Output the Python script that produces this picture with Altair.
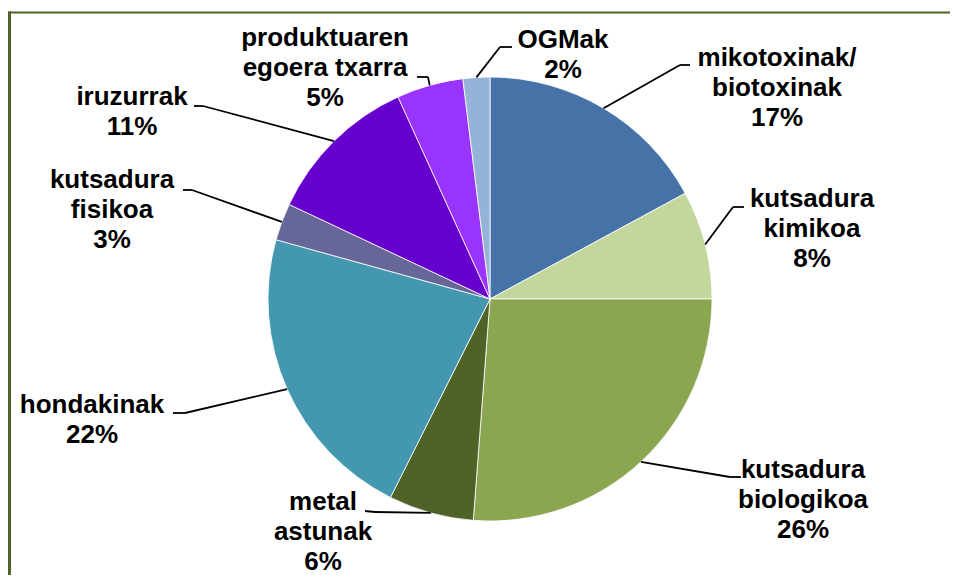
import altair as alt
import pandas as pd

# ---- data ----
categories = [
    "mikotoxinak/biotoxinak", "kutsadura kimikoa", "kutsadura biologikoa",
    "metal astunak", "hondakinak", "kutsadura fisikoa", "iruzurrak",
    "produktuaren egoera txarra", "OGMak",
]
label_names = [
    "mikotoxinak/\nbiotoxinak", "kutsadura\nkimikoa", "kutsadura\nbiologikoa",
    "metal\nastunak", "hondakinak", "kutsadura\nfisikoa", "iruzurrak",
    "produktuaren\negoera txarra", "OGMak",
]
values = [17.1, 7.9, 26.2, 6.2, 21.9, 2.7, 11.2, 4.85, 1.95]
colors = ["#4572A7", "#C3D69B", "#8BA650", "#4F6228", "#4398AF",
          "#666699", "#6600CC", "#9933FF", "#95B3D7"]

# ---- layout (pixels) ----
CX, CY, R = 482, 291, 222
W, H = 942, 567
label_x = [769, 804, 795, 315, 84, 104, 124, 317, 555]
label_y = [50, 191, 462, 494, 397, 172, 89, 30, 32]   # first text line
elbow_x = [672, 725, 722, 367, 177, 184, 195, 420, 492]
elbow_y = [57, 199, 469, 504, 405, 182, 98, 69, 39]
end_x = [682, 736, 733, 357, 165, 175, 186, 409, 504]
end_y = [57, 199, 469, 503, 405, 182, 98, 69, 39]

total = sum(values)
df = pd.DataFrame({
    "idx": list(range(len(categories))),
    "cat": categories,
    "value": values,
    "txt": [f"{n}\n{round(v * 100 / total)}%" for n, v in zip(label_names, values)],
    "lx": label_x, "ly": label_y,
    "bx": elbow_x, "by": elbow_y,
    "qx": end_x, "qy": end_y,
})

base = alt.Chart(df)

pie = base.mark_arc(outerRadius=R, stroke="white", strokeWidth=0.8).encode(
    theta=alt.Theta("value:Q", stack=True),
    order=alt.Order("idx:Q"),
    color=alt.Color("cat:N", scale=alt.Scale(domain=categories, range=colors), legend=None),
    x=alt.value(CX),
    y=alt.value(CY),
)

edge = base.transform_window(
    cum="sum(value)", sort=[alt.SortField("idx")], frame=[None, 0]
).transform_joinaggregate(
    tot="sum(value)"
).transform_calculate(
    mid="2*PI*(datum.cum - datum.value/2)/datum.tot",
).transform_calculate(
    ex=f"{CX} + {R}*sin(datum.mid)",
    ey=f"{CY} - {R}*cos(datum.mid)",
)

lead1 = edge.mark_rule(color="black", strokeWidth=1.8).encode(
    x=alt.X("ex:Q", scale=None), y=alt.Y("ey:Q", scale=None),
    x2="bx:Q", y2="by:Q",
)
lead2 = base.mark_rule(color="black", strokeWidth=1.8).encode(
    x=alt.X("bx:Q", scale=None), y=alt.Y("by:Q", scale=None),
    x2="qx:Q", y2="qy:Q",
)

labels = base.mark_text(
    font="Liberation Sans", fontWeight="bold", fontSize=26, lineHeight=30,
    lineBreak="\n", align="center", baseline="middle", color="black",
).encode(
    x=alt.X("lx:Q", scale=None), y=alt.Y("ly:Q", scale=None), text="txt:N",
)

one = alt.Chart(pd.DataFrame({"a": [0]}))
frame_top = one.mark_rule(color="#4F6228", strokeWidth=2).encode(
    x=alt.value(0), x2=alt.value(W), y=alt.value(4.5)
)
frame_left = one.mark_rule(color="#4F6228", strokeWidth=3).encode(
    x=alt.value(1.5), y=alt.value(3.5), y2=alt.value(H)
)

chart = alt.layer(pie, lead1, lead2, labels, frame_top, frame_left).properties(
    width=W, height=H, padding=0,
    autosize=alt.AutoSizeParams(type="none"),
).configure_view(stroke=None)

chart.save("out.html", embed_options={"renderer": "svg", "actions": False})
